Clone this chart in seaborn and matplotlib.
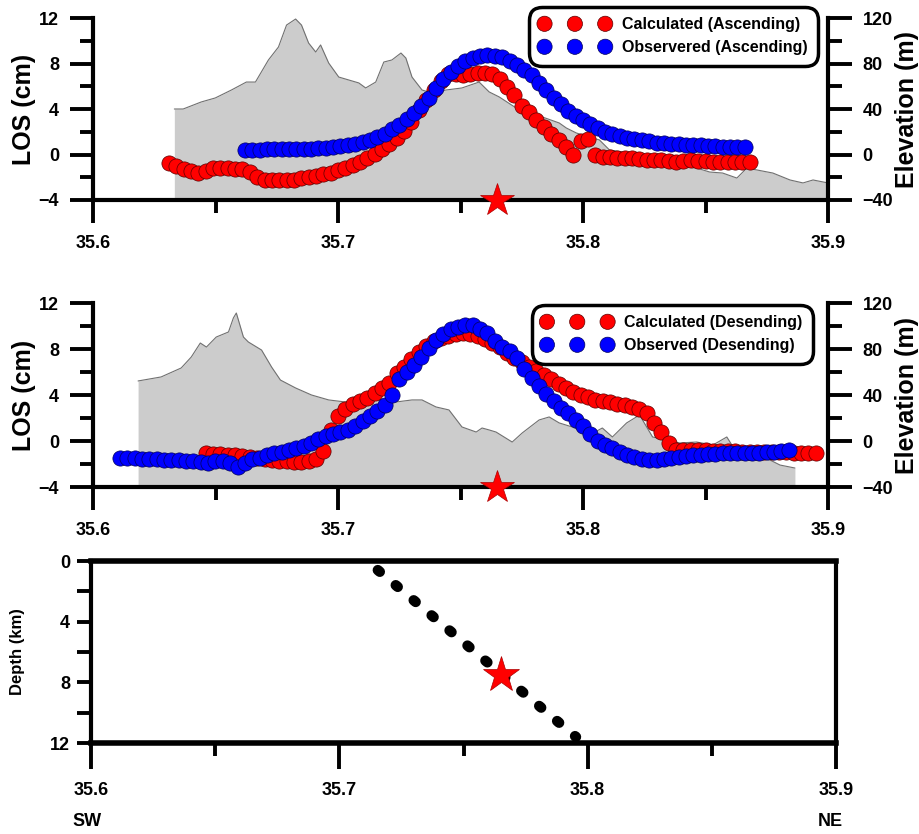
import matplotlib
matplotlib.use('Agg')
import matplotlib.pyplot as plt
import seaborn as sns
from matplotlib.ticker import MultipleLocator, FormatStrFormatter

# ---- data ----
epicenter_lon = 35.765
epicenter_depth = 7.5

# ascending track: topography (m)
elev_asc_lon = [35.6332, 35.6368, 35.6442, 35.6499, 35.6565, 35.6626, 35.6663, 35.6716, 35.6757, 35.6790,
                35.6827, 35.6851, 35.6880, 35.6909, 35.6929, 35.6962, 35.7003, 35.7044, 35.7085, 35.7113,
                35.7154, 35.7187, 35.7220, 35.7257, 35.7277, 35.7302, 35.7343, 35.7383, 35.7441, 35.7506,
                35.7576, 35.7617, 35.7658, 35.7740, 35.7834, 35.7903, 35.7932, 35.7973, 35.8026, 35.8067,
                35.8108, 35.8161, 35.8231, 35.8300, 35.8382, 35.8464, 35.8517, 35.8570, 35.8628, 35.8669,
                35.8710, 35.8775, 35.8845, 35.8898, 35.8939, 35.9000]
elev_asc_m = [40.0, 40.0, 46.2, 49.7, 56.7, 63.7, 63.7, 83.1, 94.5, 113.8,
              119.1, 113.8, 98.0, 90.1, 96.3, 80.4, 68.1, 65.5, 62.9, 58.5,
              63.7, 81.3, 83.1, 89.2, 84.8, 68.1, 56.7, 54.1, 56.7, 58.5,
              63.7, 55.0, 50.6, 39.1, 33.0, 27.7, 23.3, 18.9, 15.4, 12.8,
              4.0, 2.2, -0.4, -3.1, -9.2, -11.9, -15.4, -16.3, -20.7, -11.9,
              -13.6, -16.3, -22.4, -25.0, -22.4, -25.0]

# ascending track: calculated LOS (cm)
asc_calc_lon = [35.631, 35.634, 35.637, 35.640, 35.643, 35.646, 35.649, 35.652, 35.655, 35.658,
                35.661, 35.664, 35.667, 35.670, 35.673, 35.676, 35.679, 35.682, 35.685, 35.688,
                35.691, 35.694, 35.697, 35.700, 35.703, 35.706, 35.709, 35.712, 35.715, 35.718,
                35.721, 35.724, 35.727, 35.730, 35.733, 35.736, 35.739, 35.742, 35.745, 35.748,
                35.751, 35.754, 35.757, 35.760, 35.763, 35.766, 35.769, 35.772, 35.775, 35.778,
                35.781, 35.784, 35.787, 35.790, 35.793, 35.796, 35.799, 35.802, 35.805, 35.808,
                35.811, 35.814, 35.817, 35.820, 35.823, 35.826, 35.829, 35.832, 35.835, 35.838,
                35.841, 35.844, 35.847, 35.850, 35.853, 35.856, 35.859, 35.862, 35.865, 35.868]
asc_calc_los = [-0.75, -1.00, -1.25, -1.45, -1.60, -1.45, -1.15, -1.20, -1.15, -1.25,
                -1.30, -1.50, -2.00, -2.20, -2.25, -2.25, -2.25, -2.20, -2.10, -2.00,
                -1.90, -1.75, -1.60, -1.40, -1.20, -0.95, -0.65, -0.30, 0.05, 0.45,
                0.90, 1.45, 2.10, 2.90, 3.90, 4.80, 5.70, 6.50, 7.10, 7.05,
                7.00, 7.10, 7.20, 7.20, 7.05, 6.60, 5.90, 5.20, 4.30, 3.70,
                3.00, 2.40, 1.80, 1.30, 0.70, 0.00, 1.20, 1.40, 0.00, -0.20,
                -0.25, -0.30, -0.30, -0.35, -0.40, -0.45, -0.45, -0.50, -0.55, -0.70,
                -0.60, -0.50, -0.55, -0.60, -0.65, -0.65, -0.65, -0.65, -0.65, -0.65]

# ascending track: observed LOS (cm)
asc_obs_lon = [35.662, 35.665, 35.668, 35.671, 35.674, 35.677, 35.680, 35.683, 35.686, 35.689,
               35.692, 35.695, 35.698, 35.701, 35.704, 35.707, 35.710, 35.713, 35.716, 35.719,
               35.722, 35.725, 35.728, 35.731, 35.734, 35.737, 35.740, 35.743, 35.746, 35.749,
               35.752, 35.755, 35.758, 35.761, 35.764, 35.767, 35.770, 35.773, 35.776, 35.779,
               35.782, 35.785, 35.788, 35.791, 35.794, 35.797, 35.800, 35.803, 35.806, 35.809,
               35.812, 35.815, 35.818, 35.821, 35.824, 35.827, 35.830, 35.833, 35.836, 35.839,
               35.842, 35.845, 35.848, 35.851, 35.854, 35.857, 35.860, 35.863, 35.866]
asc_obs_los = [0.40, 0.42, 0.43, 0.44, 0.45, 0.45, 0.45, 0.45, 0.46, 0.50,
               0.53, 0.58, 0.64, 0.72, 0.82, 0.95, 1.10, 1.30, 1.52, 1.78,
               2.20, 2.62, 3.10, 3.65, 4.25, 5.00, 5.85, 6.60, 7.25, 7.80,
               8.20, 8.45, 8.62, 8.72, 8.70, 8.55, 8.25, 7.87, 7.45, 6.95,
               6.30, 5.65, 5.00, 4.40, 3.85, 3.40, 3.00, 2.65, 2.30, 2.00,
               1.80, 1.60, 1.45, 1.35, 1.25, 1.15, 1.05, 1.00, 0.95, 0.90,
               0.86, 0.83, 0.80, 0.77, 0.74, 0.70, 0.68, 0.67, 0.66]

# descending track: topography (m)
elev_des_lon = [35.6184, 35.6278, 35.6360, 35.6401, 35.6438, 35.6463, 35.6503, 35.6553, 35.6573, 35.6585,
                35.6614, 35.6634, 35.6688, 35.6729, 35.6765, 35.6827, 35.6892, 35.6962, 35.7031, 35.7097,
                35.7179, 35.7236, 35.7302, 35.7343, 35.7400, 35.7453, 35.7506, 35.7564, 35.7588, 35.7617,
                35.7645, 35.7711, 35.7752, 35.7821, 35.7862, 35.7903, 35.7956, 35.8026, 35.8079, 35.8120,
                35.8178, 35.8231, 35.8284, 35.8394, 35.8464, 35.8530, 35.8587, 35.8628, 35.8693, 35.8763,
                35.8804, 35.8865]
elev_des_m = [52.2, 55.7, 63.5, 73.0, 85.2, 81.7, 90.4, 94.8, 107.0, 111.3,
              90.4, 86.1, 79.1, 64.3, 53.0, 46.1, 40.0, 35.7, 33.9, 35.7,
              35.7, 33.9, 35.7, 35.7, 29.6, 27.0, 12.2, 7.8, 11.3, 9.6,
              7.8, -0.9, 7.0, 18.3, 20.9, 15.7, 12.2, 5.2, 11.3, 3.5,
              15.7, 22.6, 3.5, -1.7, -0.9, -3.5, 3.5, -10.4, -13.9, -16.5,
              -20.9, -23.5]

# descending track: calculated LOS (cm)
des_calc_lon = [35.646, 35.649, 35.652, 35.655, 35.658, 35.661, 35.664, 35.667, 35.670, 35.673,
                35.676, 35.679, 35.682, 35.685, 35.688, 35.691, 35.694, 35.697, 35.700, 35.703,
                35.706, 35.709, 35.712, 35.715, 35.718, 35.721, 35.724, 35.727, 35.730, 35.733,
                35.736, 35.739, 35.742, 35.745, 35.748, 35.751, 35.754, 35.757, 35.760, 35.763,
                35.766, 35.769, 35.772, 35.775, 35.778, 35.781, 35.784, 35.787, 35.790, 35.793,
                35.796, 35.799, 35.802, 35.805, 35.808, 35.811, 35.814, 35.817, 35.820, 35.823,
                35.826, 35.829, 35.832, 35.835, 35.838, 35.841, 35.844, 35.847, 35.850, 35.853,
                35.856, 35.859, 35.862, 35.865, 35.868, 35.871, 35.874, 35.877, 35.880, 35.883,
                35.886, 35.889, 35.892, 35.895]
des_calc_los = [-1.05, -1.10, -1.15, -1.20, -1.25, -1.30, -1.40, -1.50, -1.60, -1.65,
                -1.70, -1.75, -1.80, -1.80, -1.75, -1.60, -0.90, 1.00, 2.20, 2.80,
                3.20, 3.45, 3.70, 4.20, 4.65, 5.05, 5.90, 6.40, 7.10, 7.75,
                8.30, 8.70, 8.95, 9.10, 9.30, 9.40, 9.30, 9.10, 8.85, 8.50,
                8.15, 7.65, 7.25, 6.85, 6.45, 6.05, 5.70, 5.35, 4.95, 4.60,
                4.25, 4.00, 3.80, 3.60, 3.45, 3.35, 3.25, 3.10, 2.95, 2.80,
                2.40, 1.60, 0.80, -0.20, -0.75, -0.80, -0.80, -0.80, -0.82, -0.85,
                -0.85, -0.88, -0.90, -0.92, -0.95, -0.95, -0.95, -0.96, -0.96, -0.98,
                -1.00, -1.02, -1.04, -1.05]

# descending track: observed LOS (cm)
des_obs_lon = [35.611, 35.614, 35.617, 35.620, 35.623, 35.626, 35.629, 35.632, 35.635, 35.638,
               35.641, 35.644, 35.647, 35.650, 35.653, 35.656, 35.659, 35.662, 35.665, 35.668,
               35.671, 35.674, 35.677, 35.680, 35.683, 35.686, 35.689, 35.692, 35.695, 35.698,
               35.701, 35.704, 35.707, 35.710, 35.713, 35.716, 35.719, 35.722, 35.725, 35.728,
               35.731, 35.734, 35.737, 35.740, 35.743, 35.746, 35.749, 35.752, 35.755, 35.758,
               35.761, 35.764, 35.767, 35.770, 35.773, 35.776, 35.779, 35.782, 35.785, 35.788,
               35.791, 35.794, 35.797, 35.800, 35.803, 35.806, 35.809, 35.812, 35.815, 35.818,
               35.821, 35.824, 35.827, 35.830, 35.833, 35.836, 35.839, 35.842, 35.845, 35.848,
               35.851, 35.854, 35.857, 35.860, 35.863, 35.866, 35.869, 35.872, 35.875, 35.878,
               35.881, 35.884]
des_obs_los = [-1.48, -1.50, -1.52, -1.55, -1.58, -1.60, -1.62, -1.65, -1.68, -1.72,
               -1.78, -1.85, -1.92, -1.75, -1.70, -1.90, -2.30, -1.95, -1.60, -1.45,
               -1.25, -1.05, -0.95, -0.80, -0.60, -0.40, -0.20, 0.20, 0.45, 0.65,
               0.75, 0.95, 1.30, 1.75, 2.20, 2.65, 3.10, 4.00, 5.40, 6.00,
               6.60, 7.30, 8.10, 8.80, 9.30, 9.70, 9.95, 10.08, 10.05, 9.75,
               9.35, 8.70, 8.20, 7.80, 7.20, 6.30, 5.50, 4.80, 4.10, 3.50,
               2.90, 2.40, 1.85, 1.30, 0.60, 0.00, -0.35, -0.65, -0.95, -1.20,
               -1.40, -1.55, -1.62, -1.65, -1.55, -1.45, -1.35, -1.30, -1.25, -1.20,
               -1.15, -1.10, -1.08, -1.05, -1.04, -1.04, -1.02, -1.00, -0.98, -0.96,
               -0.90, -0.80]

# fault trace in cross-section
fault_lon = [35.7155, 35.7953]
fault_depth = [0.6, 11.6]

# ---- style ----
sns.set_style('ticks')
plt.rcParams['font.family'] = ['Liberation Sans', 'DejaVu Sans']
plt.rcParams['font.weight'] = 'bold'
plt.rcParams['axes.labelweight'] = 'bold'
for key in ['axes.edgecolor', 'xtick.color', 'ytick.color', 'text.color', 'axes.labelcolor']:
    plt.rcParams[key] = 'black'

fig = plt.figure(figsize=(9.2, 8.34), dpi=100)
W, H = 920, 834
ax1 = fig.add_axes([93 / W, 1 - 200 / H, 735 / W, 182 / H])
ax2 = fig.add_axes([93 / W, 1 - 487 / H, 735 / W, 184 / H])
ax3 = fig.add_axes([91 / W, 1 - 743 / H, 745 / W, 182 / H])


def style_x(ax):
    ax.set_xlim(35.6, 35.9)
    ax.xaxis.set_major_locator(MultipleLocator(0.1))
    ax.xaxis.set_minor_locator(MultipleLocator(0.05))
    ax.xaxis.set_major_formatter(FormatStrFormatter('%.1f'))
    ax.tick_params(axis='x', which='major', length=16.5, width=2.8, labelsize=13, pad=9)
    ax.tick_params(axis='x', which='minor', length=9.5, width=2.8)


def profile(ax, elev_lon, elev_m, calc_lon, calc_los, obs_lon, obs_los,
            calc_label, obs_label, legend_anchor):
    axr = ax.twinx()
    axr.fill_between(elev_lon, elev_m, -40, color='#cccccc', linewidth=0)
    axr.plot(elev_lon, elev_m, color='#707070', linewidth=0.8)
    axr.set_ylim(-40, 120)
    axr.yaxis.set_major_locator(MultipleLocator(40))
    axr.yaxis.set_minor_locator(MultipleLocator(20))
    axr.tick_params(axis='y', which='major', length=17, width=2.8, labelsize=13, pad=8)
    axr.tick_params(axis='y', which='minor', length=10, width=2.8)
    axr.set_ylabel('Elevation (m)', fontsize=18, fontweight='bold')
    axr.yaxis.set_label_coords(1.091, 0.5)
    for s in ['top', 'left', 'bottom']:
        axr.spines[s].set_visible(False)
    axr.spines['right'].set_linewidth(3)

    ax.set_zorder(axr.get_zorder() + 1)
    ax.patch.set_visible(False)

    sns.scatterplot(x=calc_lon, y=calc_los, ax=ax, color='#ff0000', s=120,
                    edgecolor='#5a0000', linewidth=0.5, label=calc_label, zorder=3)
    sns.scatterplot(x=obs_lon, y=obs_los, ax=ax, color='#0000ff', s=120,
                    edgecolor='#00005a', linewidth=0.5, label=obs_label, zorder=4)

    style_x(ax)
    ax.set_ylim(-4, 12)
    ax.yaxis.set_major_locator(MultipleLocator(4))
    ax.yaxis.set_minor_locator(MultipleLocator(2))
    ax.tick_params(axis='y', which='major', length=16.5, width=2.8, labelsize=13, pad=8)
    ax.tick_params(axis='y', which='minor', length=9.5, width=2.8)
    ax.set_xlabel('')
    ax.set_ylabel('LOS (cm)', fontsize=18, fontweight='bold')
    ax.yaxis.set_label_coords(-0.078, 0.5)
    for s in ['top', 'right']:
        ax.spines[s].set_visible(False)
    for s in ['left', 'bottom']:
        ax.spines[s].set_linewidth(3)

    ax.plot([epicenter_lon], [ax.get_ylim()[0]], marker='*', ms=25, color='#ff0000',
            mec='#aa0000', mew=0.5, clip_on=False, zorder=6)

    leg = ax.legend(loc='upper right', bbox_to_anchor=legend_anchor, bbox_transform=fig.transFigure,
                    scatterpoints=3, scatteryoffsets=[0.5], prop={'weight': 'bold', 'size': 11.5},
                    frameon=True, fancybox=True, framealpha=1, edgecolor='black',
                    handlelength=4.4, handletextpad=0.75, borderpad=0.65, labelspacing=0.5,
                    borderaxespad=0)
    frame = leg.get_frame()
    frame.set_linewidth(2.5)
    frame.set_boxstyle('round,pad=0,rounding_size=0.8')
    return axr


profile(ax1, elev_asc_lon, elev_asc_m, asc_calc_lon, asc_calc_los, asc_obs_lon, asc_obs_los,
        'Calculated (Ascending)', 'Observered (Ascending)', (818 / W, 1 - 7 / H))
profile(ax2, elev_des_lon, elev_des_m, des_calc_lon, des_calc_los, des_obs_lon, des_obs_los,
        'Calculated (Desending)', 'Observed (Desending)', (813 / W, 1 - 305 / H))

# cross-section
ax3.plot(fault_lon, fault_depth, color='black', linewidth=7.5,
         linestyle=(0, (0.25, 2.0)), dash_capstyle='round')
ax3.plot([epicenter_lon], [epicenter_depth], marker='*', ms=27, color='#ff0000',
         mec='#aa0000', mew=0.5, linestyle='none', zorder=5)
style_x(ax3)
ax3.tick_params(axis='x', which='major', length=19, pad=9)
ax3.set_ylim(12, 0)
ax3.yaxis.set_major_locator(MultipleLocator(4))
ax3.yaxis.set_minor_locator(MultipleLocator(2))
ax3.tick_params(axis='y', which='both', length=10, width=2.8, labelsize=13, pad=5)
ax3.set_ylabel('Depth (km)', fontsize=12, fontweight='bold')
ax3.yaxis.set_label_coords(-0.089, 0.5)
for s in ['top', 'bottom', 'left', 'right']:
    ax3.spines[s].set_visible(True)
    ax3.spines[s].set_linewidth(3)
ax3.spines['top'].set_linewidth(4)
ax3.spines['bottom'].set_linewidth(4)

fig.text(72 / W, 1 - 822 / H, 'SW', fontsize=13, fontweight='bold', ha='left', va='center')
fig.text(818 / W, 1 - 822 / H, 'NE', fontsize=13, fontweight='bold', ha='left', va='center')

fig.savefig('out.png', dpi=100)
